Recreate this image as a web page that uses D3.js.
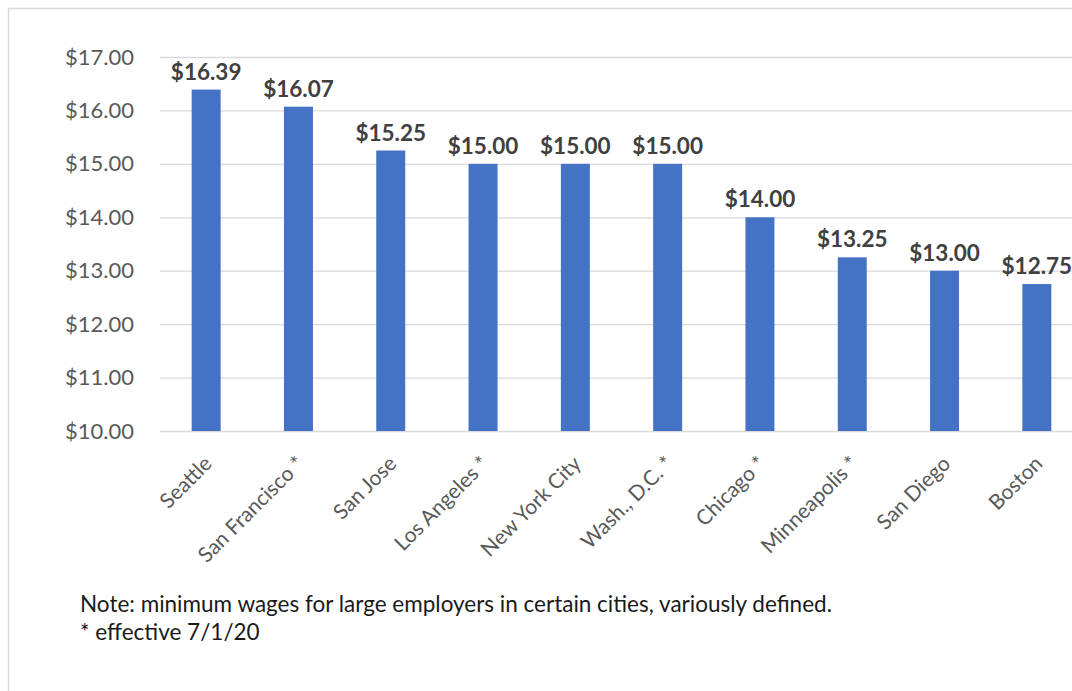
<!DOCTYPE html>
<html>
<head>
<meta charset="utf-8">
<script src="https://cdn.jsdelivr.net/npm/d3@7"></script>
<style>
  body { margin: 0; background: #fff; }
  text { font-family: Lato, "Open Sans", sans-serif; }
</style>
</head>
<body>
<div id="chart"></div>
<script>
const cities = ["Seattle", "San Francisco *", "San Jose", "Los Angeles *", "New York City",
                "Wash., D.C. *", "Chicago *", "Minneapolis *", "San Diego", "Boston"];
const wages = [16.39, 16.07, 15.25, 15.00, 15.00, 15.00, 14.00, 13.25, 13.00, 12.75];
const yTicks = [10, 11, 12, 13, 14, 15, 16, 17];
const noteLines = ["Note: minimum wages for large employers in certain cities, variously defined.",
                   "* effective 7/1/20"];

const width = 1072, height = 691;
const svg = d3.select("#chart").append("svg")
    .attr("width", width).attr("height", height);

// cornice del grafico (tagliata a destra e in basso)
svg.append("rect")
    .attr("x", 8.5).attr("y", 8.5)
    .attr("width", width + 20).attr("height", height + 20)
    .attr("fill", "#fff").attr("stroke", "#d9d9d9").attr("stroke-width", 1.5);

const plotLeft = 160, plotRight = 1083;
const x = d3.scaleBand().domain(cities).range([plotLeft, plotRight])
    .paddingInner(0.686).paddingOuter(0.343);
const y = d3.scaleLinear().domain([10, 17]).range([431, 57]);

// griglia + etichette asse y
const yAxis = svg.append("g")
    .attr("transform", `translate(${plotLeft},0)`)
    .call(d3.axisLeft(y).tickValues(yTicks).tickFormat(d3.format("$.2f"))
        .tickSize(-(plotRight - plotLeft)).tickPadding(26));
yAxis.select(".domain").remove();
yAxis.selectAll(".tick line").attr("stroke", "#d9d9d9").attr("stroke-width", 1.3);
yAxis.selectAll(".tick text")
    .attr("fill", "#595959").style("font-size", "22px");

// barre
svg.selectAll("rect.bar")
    .data(wages).enter().append("rect")
    .attr("class", "bar")
    .attr("x", (d, i) => x(cities[i]))
    .attr("width", x.bandwidth())
    .attr("y", d => y(d))
    .attr("height", d => y(10) - y(d))
    .attr("fill", "#4472c4");

// etichette valori
svg.selectAll("text.val")
    .data(wages).enter().append("text")
    .attr("class", "val")
    .attr("x", (d, i) => x(cities[i]) + x.bandwidth() / 2)
    .attr("y", d => y(d) - 10)
    .attr("text-anchor", "middle")
    .attr("fill", "#404040")
    .style("font-size", "22.5px").style("font-weight", "bold")
    .text(d => d3.format("$.2f")(d));

// etichette categorie ruotate
svg.selectAll("text.cat")
    .data(cities).enter().append("text")
    .attr("class", "cat")
    .attr("transform", d => `translate(${x(d) + x.bandwidth() / 2 + 7},465) rotate(-45)`)
    .attr("text-anchor", "end")
    .attr("fill", "#595959")
    .style("font-size", "21px")
    .text(d => d);

// note
svg.selectAll("text.note")
    .data(noteLines).enter().append("text")
    .attr("class", "note")
    .attr("x", 80)
    .attr("y", (d, i) => 612 + i * 28)
    .attr("fill", "#1a1a1a")
    .style("font-size", "22.5px")
    .text(d => d);
</script>
</body>
</html>
